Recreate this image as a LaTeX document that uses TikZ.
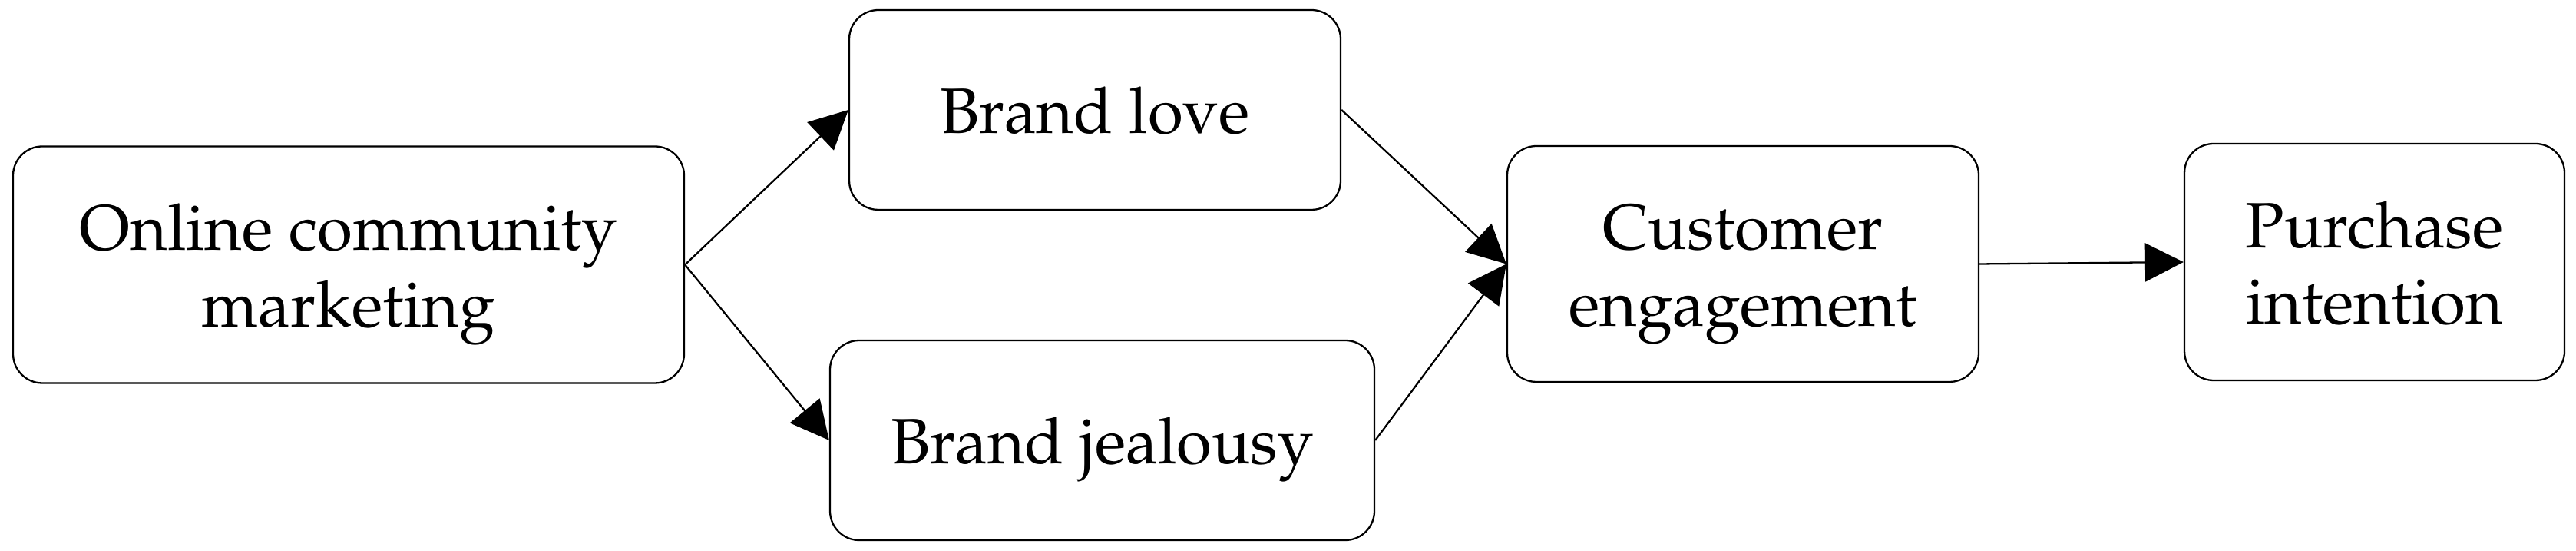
\documentclass[tikz,border=0pt]{standalone}
\usepackage[T1]{fontenc}
\renewcommand{\rmdefault}{ppl}
\usetikzlibrary{arrows.meta}
\newcommand{\twolines}[2]{\raisebox{0pt}[\dimexpr\height+0.22cm\relax][\depth]{\begin{tabular}{@{}c@{}}#1\\#2\end{tabular}}}
\begin{document}
\begin{tikzpicture}[
  box/.style={draw=black, line width=0.65pt, rounded corners=0.38cm, align=center,
    inner sep=0pt, font=\fontsize{23.8}{28.4}\selectfont},
  oneline/.style={text depth=0pt},
  conn/.style={line width=0.65pt, -{Triangle[length=0.5cm,width=0.5cm]}}
]
\useasboundingbox (0,0) rectangle (33.55,7.17);
\node[box, minimum width=8.74cm, minimum height=3.08cm] (ocm) at (4.54,3.725) {\twolines{Online community}{marketing}};
\node[box, oneline, minimum width=6.40cm, minimum height=2.60cm] (bl) at (14.26,5.74) {Brand love};
\node[box, oneline, minimum width=7.09cm, minimum height=2.60cm] (bj) at (14.355,1.44) {Brand jealousy};
\node[box, minimum width=6.14cm, minimum height=3.07cm] (ce) at (22.70,3.735) {\twolines{Customer}{engagement}};
\node[box, minimum width=4.95cm, minimum height=3.08cm] (pi) at (30.925,3.76) {\twolines{Purchase}{intention}};
\draw[conn] (ocm.east) -- (bl.west);
\draw[conn] (ocm.east) -- (bj.west);
\draw[conn] (bl.east) -- (ce.west);
\draw[conn] (bj.east) -- (ce.west);
\draw[conn] (ce.east) -- (pi.west);
\end{tikzpicture}
\end{document}
